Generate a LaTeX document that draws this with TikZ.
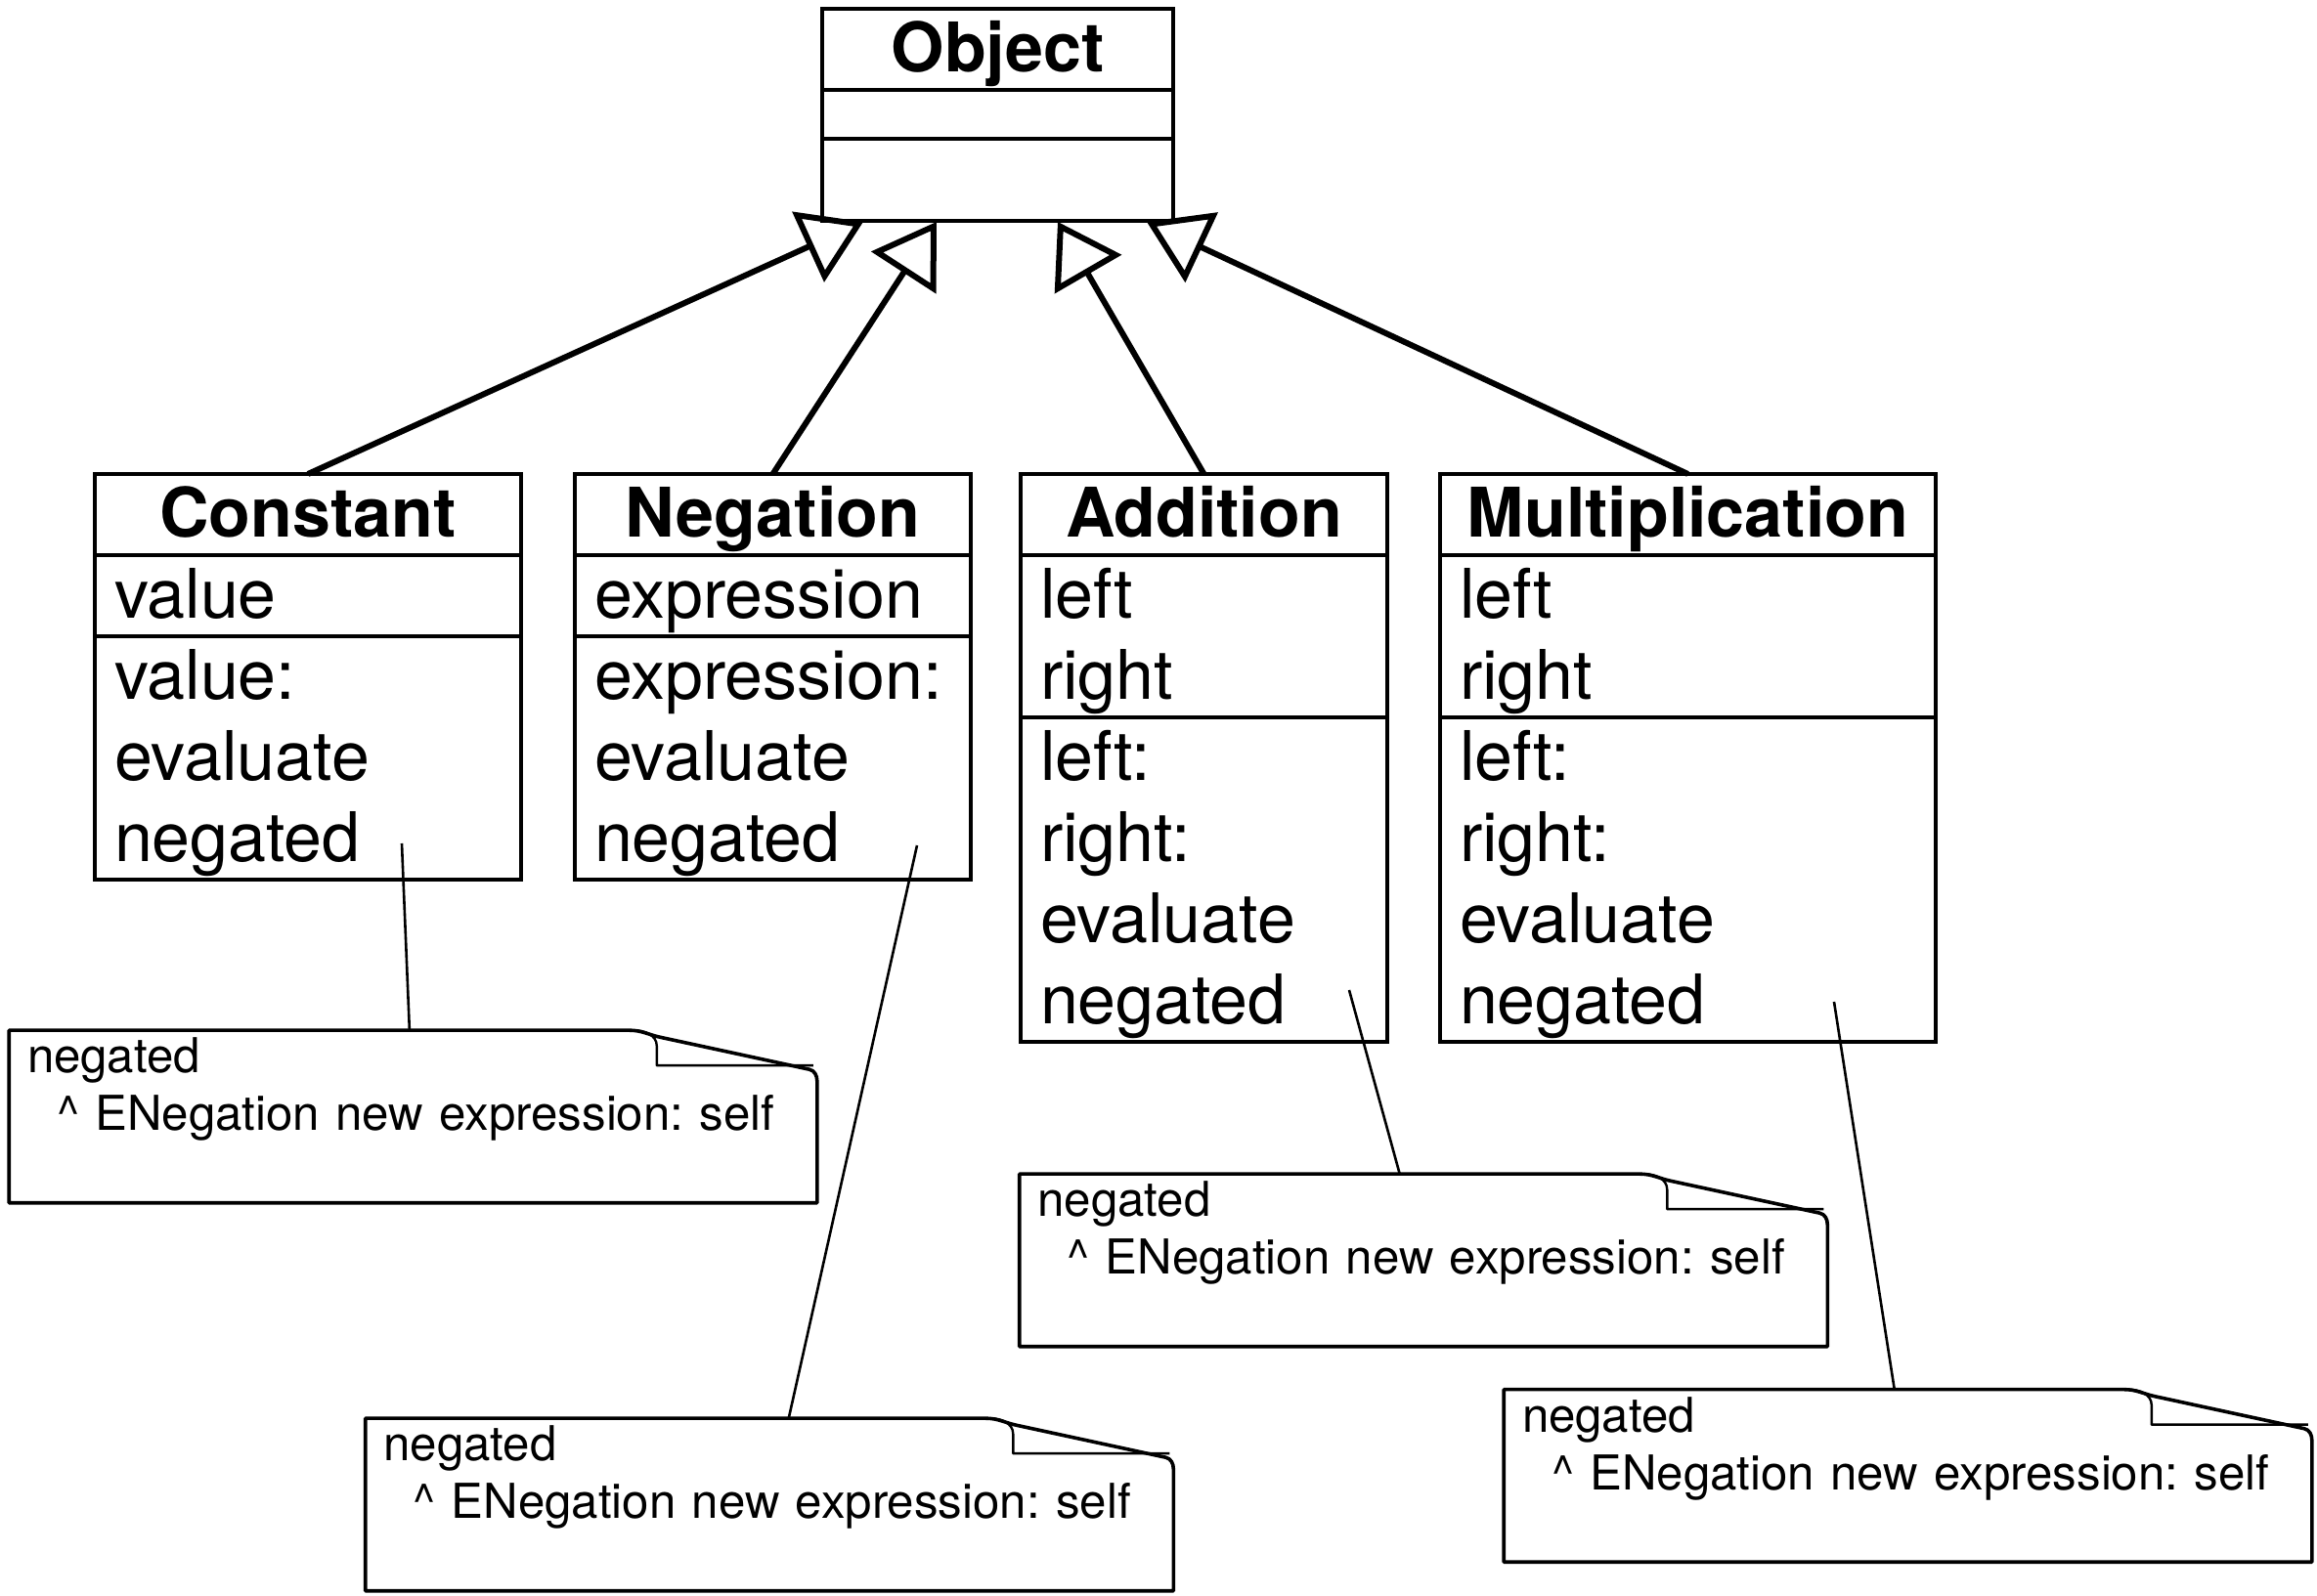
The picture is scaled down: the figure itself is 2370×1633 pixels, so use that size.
\documentclass[tikz,border=0pt]{standalone}
\usepackage{fontspec}
\setmainfont{TeX Gyre Heros}
\usetikzlibrary{positioning,arrows.meta}

\begin{document}
\begin{tikzpicture}[x=0.25pt,y=-0.25pt,cls/.style={draw,line width=0.9pt,inner xsep=5pt,inner ysep=0pt,outer sep=0pt,font=\fontsize{17.5}{20.75}\selectfont},clsT/.style={cls,align=center,font=\fontsize{17.5}{20.75}\selectfont\bfseries},clsB/.style={cls,align=left},gen/.style={line width=1.5pt,-{Triangle[open,length=15.5pt,width=19.5pt]}},note/.style={minimum width=206.25pt,minimum height=43.75pt,inner sep=0pt},noteT/.style={anchor=north west,inner xsep=4.5pt,inner ysep=0pt,text width=196pt,align=left,font=\fontsize{12.3}{14.75}\selectfont\frenchspacing},noteL/.style={line width=0.9pt,line join=round},link/.style={line width=0.65pt}]
\def\cs{\rule[-4.5pt]{0pt}{20.75pt}}
\def\ns{\rule[-4pt]{0pt}{14.75pt}}

\useasboundingbox (0,0) rectangle (2370,1633);

\node[clsT,text width=79.75pt] (Obj) at (1020.5,50.5) {\cs Object};
\node[clsB,text width=79.75pt,minimum height=12.5pt,below=0pt of Obj] (ObjA) {};
\node[clsB,text width=79.75pt,minimum height=21pt,below=0pt of ObjA] (ObjM) {};

\node[clsT,text width=99pt] (Con) at (315,526.5) {\cs Constant};
\node[clsB,text width=99pt,below=0pt of Con] (ConA) {\cs value};
\node[clsB,text width=99pt,below=0pt of ConA] (ConM) {\cs value:\\\cs evaluate\\\cs negated};

\node[clsT,text width=91.25pt] (Neg) at (790.5,526.5) {\cs Negation};
\node[clsB,text width=91.25pt,below=0pt of Neg] (NegA) {\cs expression};
\node[clsB,text width=91.25pt,below=0pt of NegA] (NegM) {\cs expression:\\\cs evaluate\\\cs negated};

\node[clsT,text width=83.75pt] (Add) at (1231.5,526.5) {\cs Addition};
\node[clsB,text width=83.75pt,below=0pt of Add] (AddA) {\cs left\\\cs right};
\node[clsB,text width=83.75pt,below=0pt of AddA] (AddM) {\cs left:\\\cs right:\\\cs evaluate\\\cs negated};

\node[clsT,text width=116.75pt] (Mul) at (1726.5,526.5) {\cs Multiplication};
\node[clsB,text width=116.75pt,below=0pt of Mul] (MulA) {\cs left\\\cs right};
\node[clsB,text width=116.75pt,below=0pt of MulA] (MulM) {\cs left:\\\cs right:\\\cs evaluate\\\cs negated};

% generalization tips on the bottom of Object
\coordinate (tC) at (883,227);
\coordinate (tN) at (958,227);
\coordinate (tA) at (1082,227);
\coordinate (tM) at (1173,227);
\draw[gen] (Con.north) -- (tC);
\draw[gen] (Neg.north) -- (tN);
\draw[gen] (Add.north) -- (tA);
\draw[gen] (Mul.north) -- (tM);

% notes
\node[note] (N1) at (422.5,1142.5) {};
\node[note] (N2) at (787,1539.5) {};
\node[note] (N3) at (1456,1289.5) {};
\node[note] (N4) at (1951.5,1510) {};
\foreach \n in {N1,N2,N3,N4}{
\node[noteT] (\n t) at (\n.north west) {\ns negated\\\ns\hspace*{7.5pt}\textasciicircum{} ENegation new expression: self};
\draw[noteL] ([xshift=-48pt]\n.north east) -- (\n.north west) -- (\n.south west) -- (\n.south east) -- ([yshift=-13pt]\n.north east) to[out=90,in=-12] ([xshift=-2pt,yshift=-10pt]\n.north east) -- ([xshift=-40pt,yshift=-1.8pt]\n.north east) to[out=168,in=0] ([xshift=-48pt]\n.north east);
\draw[noteL,line width=0.6pt] ([xshift=-47pt]\n.north east) to[out=0,in=90] ([xshift=-41pt,yshift=-4pt]\n.north east) -- ([xshift=-41pt,yshift=-9pt]\n.north east) -- ([xshift=-1pt,yshift=-9pt]\n.north east);
}

\coordinate (cC) at (411,863);
\coordinate (cN) at (938,865);
\coordinate (cA) at (1380,1013);
\coordinate (cM) at (1876,1025);
\draw[link] (cC) -- (N1);
\draw[link] (cN) -- (N2);
\draw[link] (cA) -- (N3);
\draw[link] (cM) -- (N4);
\end{tikzpicture}
\end{document}
